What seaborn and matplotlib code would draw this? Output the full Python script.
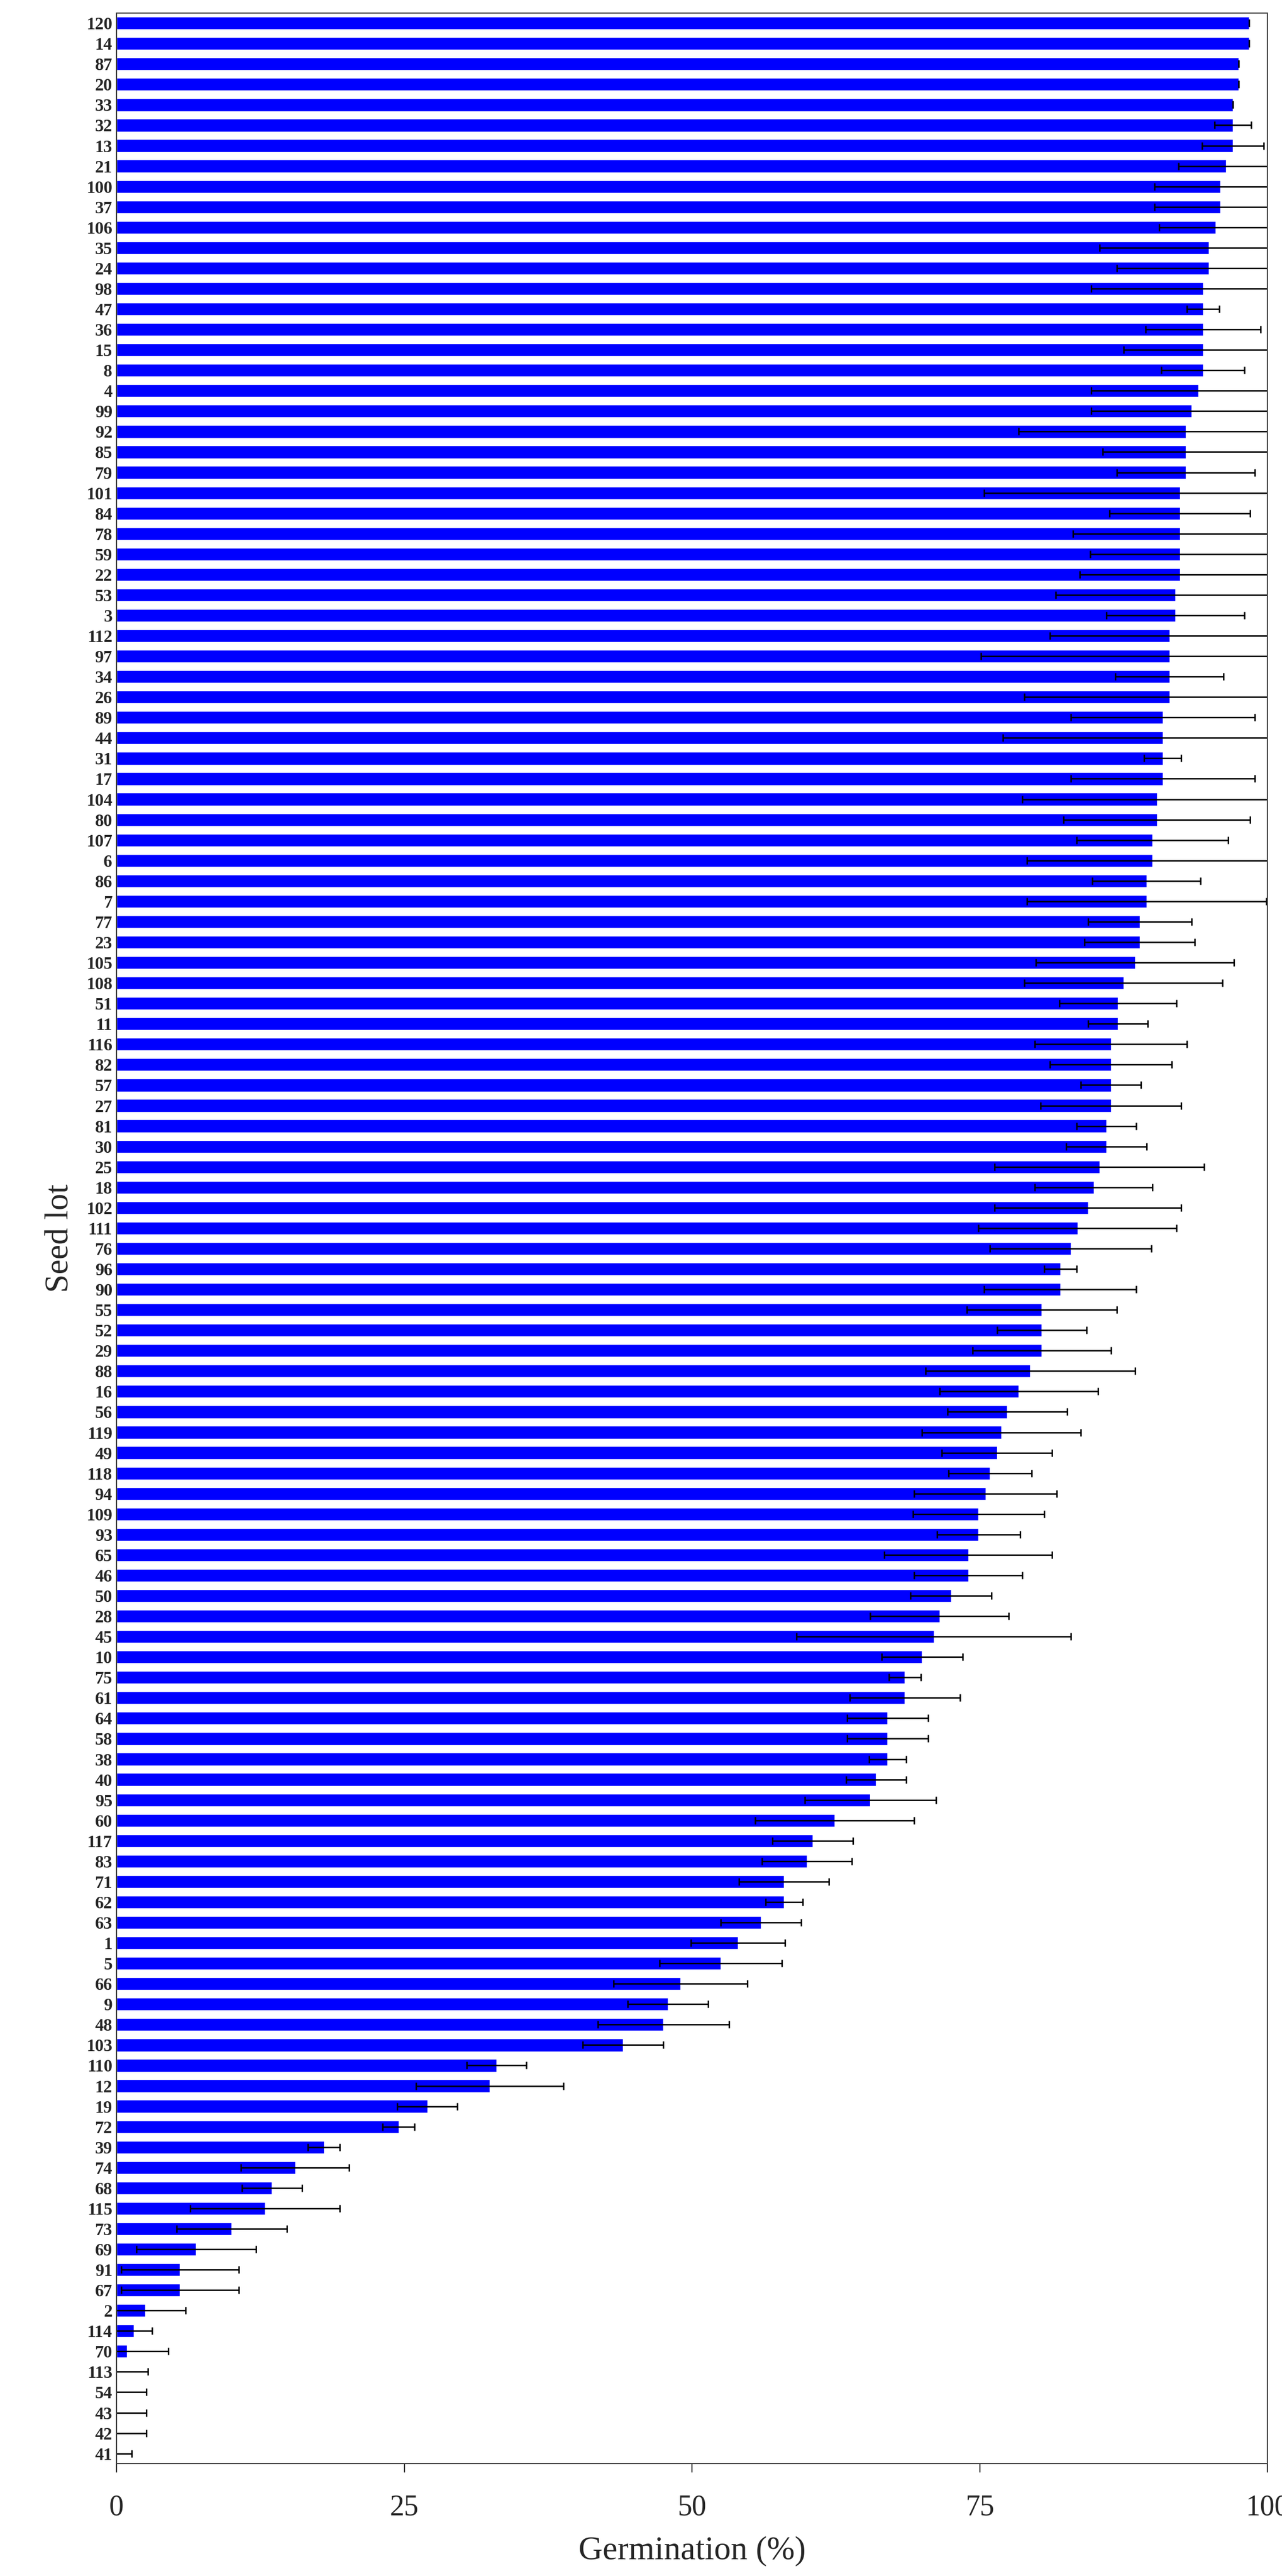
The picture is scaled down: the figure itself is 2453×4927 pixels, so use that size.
import numpy as np
import pandas as pd
import matplotlib
matplotlib.use("Agg")
import matplotlib.pyplot as plt
import seaborn as sns

# seed lots, top to bottom
lots = ["120", "14", "87", "20", "33", "32", "13", "21", "100", "37", "106", "35", "24", "98", "47",
        "36", "15", "8", "4", "99", "92", "85", "79", "101", "84", "78", "59", "22", "53", "3",
        "112", "97", "34", "26", "89", "44", "31", "17", "104", "80", "107", "6", "86", "7", "77",
        "23", "105", "108", "51", "11", "116", "82", "57", "27", "81", "30", "25", "18", "102", "111",
        "76", "96", "90", "55", "52", "29", "88", "16", "56", "119", "49", "118", "94", "109", "93",
        "65", "46", "50", "28", "45", "10", "75", "61", "64", "58", "38", "40", "95", "60", "117",
        "83", "71", "62", "63", "1", "5", "66", "9", "48", "103", "110", "12", "19", "72", "39",
        "74", "68", "115", "73", "69", "91", "67", "2", "114", "70", "113", "54", "43", "42", "41"]

germ = [98.4, 98.4, 97.5, 97.5, 97.0, 97.0, 97.0, 96.4, 95.9, 95.9, 95.5, 94.9, 94.9, 94.4, 94.4,
        94.4, 94.4, 94.4, 94.0, 93.4, 92.9, 92.9, 92.9, 92.4, 92.4, 92.4, 92.4, 92.4, 92.0, 92.0,
        91.5, 91.5, 91.5, 91.5, 90.9, 90.9, 90.9, 90.9, 90.4, 90.4, 90.0, 90.0, 89.5, 89.5, 88.9,
        88.9, 88.5, 87.5, 87.0, 87.0, 86.4, 86.4, 86.4, 86.4, 86.0, 86.0, 85.4, 84.9, 84.4, 83.5,
        82.9, 82.0, 82.0, 80.4, 80.4, 80.4, 79.4, 78.4, 77.4, 76.9, 76.5, 75.9, 75.5, 74.9, 74.9,
        74.0, 74.0, 72.5, 71.5, 71.0, 70.0, 68.5, 68.5, 67.0, 67.0, 67.0, 66.0, 65.5, 62.4, 60.5,
        60.0, 58.0, 58.0, 56.0, 54.0, 52.5, 49.0, 47.9, 47.5, 44.0, 33.0, 32.4, 27.0, 24.5, 18.0,
        15.5, 13.5, 12.9, 10.0, 6.9, 5.5, 5.5, 2.5, 1.5, 0.9, 0.0, 0.0, 0.0, 0.0, 0.0]

err = [0.0, 0.0, 0.0, 0.0, 0.0, 1.6, 2.7, 4.1, 5.7, 5.7, 4.9, 9.5, 8.0, 9.7, 1.4,
       5.0, 6.9, 3.6, 9.3, 8.7, 14.5, 7.2, 6.0, 17.0, 6.1, 9.3, 7.8, 8.7, 10.4, 6.0,
       10.4, 16.4, 4.7, 12.6, 8.0, 13.9, 1.6, 8.0, 11.7, 8.1, 6.6, 10.9, 4.7, 10.4, 4.5,
       4.8, 8.6, 8.6, 5.1, 2.6, 6.6, 5.3, 2.6, 6.1, 2.6, 3.5, 9.1, 5.1, 8.1, 8.6,
       7.0, 1.4, 6.6, 6.5, 3.9, 6.0, 9.1, 6.9, 5.2, 6.9, 4.8, 3.6, 6.2, 5.7, 3.6,
       7.3, 4.7, 3.5, 6.0, 11.9, 3.5, 1.4, 4.8, 3.5, 3.5, 1.6, 2.6, 5.7, 6.9, 3.5,
       3.9, 3.9, 1.6, 3.5, 4.1, 5.3, 5.8, 3.5, 5.7, 3.5, 2.6, 6.4, 2.6, 1.4, 1.4,
       4.7, 2.6, 6.5, 4.8, 5.2, 5.1, 5.1, 3.5, 1.6, 3.6, 2.7, 2.6, 2.6, 2.6, 1.3]

df = pd.DataFrame({"lot": lots, "germ": germ, "err": err})

sns.set_style("white")
plt.rcParams["font.family"] = ["Liberation Serif", "DejaVu Serif"]

fig = plt.figure(figsize=(24.53, 49.27), dpi=100)
ax = fig.add_axes([0.091, 0.0436, 0.8976, 0.9514])

sns.barplot(data=df, x="germ", y="lot", order=lots, orient="h", color="#0000FF",
            saturation=1, width=0.62, errorbar=None, ax=ax)
ax.errorbar(df["germ"], np.arange(len(lots)), xerr=df["err"], fmt="none",
            ecolor="black", elinewidth=2, capsize=5, capthick=2)

ax.set_xlim(0, 100)
ax.set_ylim(len(lots) - 0.5, -0.5)
ax.set_xticks([0, 25, 50, 75, 100])
ax.tick_params(axis="x", labelsize=40, length=12, width=1.5, direction="out", bottom=True, pad=30)
ax.tick_params(axis="y", labelsize=24, length=0, pad=6)
for t in ax.get_yticklabels():
    t.set_fontweight("bold")
ax.set_xlabel("Germination (%)", fontsize=46, labelpad=20)
ax.set_ylabel("Seed lot", fontsize=46, labelpad=15)
for s in ax.spines.values():
    s.set_visible(True)
    s.set_color("#333333")
    s.set_linewidth(1.5)

fig.savefig("out.png", dpi=100)
